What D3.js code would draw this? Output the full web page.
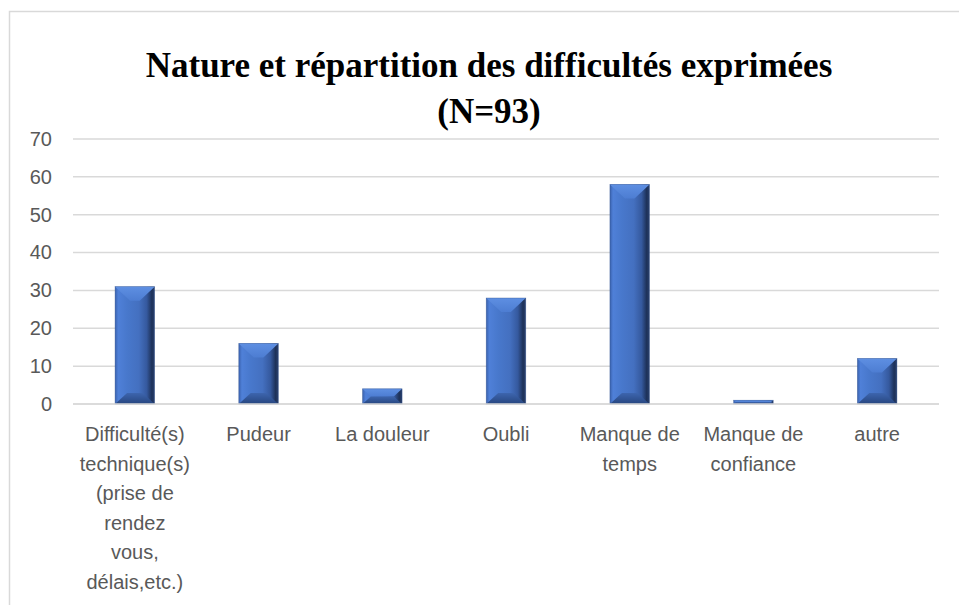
<!DOCTYPE html>
<html lang="fr">
<head>
<meta charset="UTF-8">
<script src="https://cdnjs.cloudflare.com/ajax/libs/d3/7.8.5/d3.min.js"></script>
<title>Nature et répartition des difficultés exprimées</title>
<style>
  body { margin: 0; background: #fff; }
  svg { display: block; }
</style>
</head>
<body>
<div id="chart"></div>
<script>
// data
const categories = [
  "Difficulté(s) technique(s) (prise de rendez vous, délais,etc.)",
  "Pudeur", "La douleur", "Oubli", "Manque de temps", "Manque de confiance", "autre"
];
// how each category label wraps under the axis
const labelLines = [
  ["Difficulté(s)", "technique(s)", "(prise de", "rendez", "vous,", "délais,etc.)"],
  ["Pudeur"], ["La douleur"], ["Oubli"], ["Manque de", "temps"], ["Manque de", "confiance"], ["autre"]
];
const values = [31, 16, 4, 28, 58, 1, 12];
const yTicks = [0, 10, 20, 30, 40, 50, 60, 70];
const titleLines = ["Nature et répartition des difficultés exprimées", "(N=93)"];

const W = 959, H = 605;
const plotLeft = 73, plotRight = 939, plotTop = 139, plotBottom = 404;
const labelFont = "'Liberation Sans', Arial, sans-serif";

const svg = d3.select("#chart").append("svg")
  .attr("width", W).attr("height", H);

// frame of the chart area (cropped on the right and bottom)
svg.append("path")
  .attr("d", `M${9.5},${H} V${11.5} H${W}`)
  .attr("fill", "none").attr("stroke", "#d9d9d9").attr("stroke-width", 1.5);

// gradients for the bevelled bars
const defs = svg.append("defs");
const side = defs.append("linearGradient").attr("id", "side")
  .attr("x1", 0).attr("x2", 1).attr("y1", 0).attr("y2", 0);
[[0, "#3a62ae"], [0.08, "#4f80d8"], [0.3, "#4878cc"], [0.6, "#4470c0"], [0.8, "#35599e"], [0.93, "#1d3158"], [1, "#2b4270"]]
  .forEach(([o, c]) => side.append("stop").attr("offset", o).attr("stop-color", c));
const topG = defs.append("linearGradient").attr("id", "topbevel")
  .attr("x1", 0).attr("x2", 0).attr("y1", 0).attr("y2", 1);
[[0, "#5e8fe2"], [1, "#4d7dd2"]].forEach(([o, c]) => topG.append("stop").attr("offset", o).attr("stop-color", c));
const botG = defs.append("linearGradient").attr("id", "botbevel")
  .attr("x1", 0).attr("x2", 0).attr("y1", 0).attr("y2", 1);
[[0, "#3d65ae"], [1, "#27467f"]].forEach(([o, c]) => botG.append("stop").attr("offset", o).attr("stop-color", c));

const x = d3.scaleBand().domain(categories).range([plotLeft, plotRight])
  .paddingInner(0.68).paddingOuter(0.34);
const y = d3.scaleLinear().domain([0, 70]).range([plotBottom, plotTop]);

// gridlines
svg.append("g").selectAll("line").data(yTicks).join("line")
  .attr("x1", plotLeft).attr("x2", plotRight)
  .attr("y1", d => y(d)).attr("y2", d => y(d))
  .attr("stroke", "#d9d9d9").attr("stroke-width", 1.5);

// y axis labels
const yAxis = svg.append("g")
  .attr("transform", `translate(${plotLeft - 21},0)`)
  .call(d3.axisLeft(y).tickValues(yTicks).tickSize(0).tickPadding(0));
yAxis.select(".domain").remove();
yAxis.selectAll("text")
  .attr("font-family", labelFont)
  .attr("font-size", 20).attr("fill", "#595959");

// bars
const bars = svg.append("g").selectAll("g").data(values).join("g")
  .attr("transform", (d, i) => `translate(${x(categories[i])},${y(d)})`);
const bw = x.bandwidth();
bars.append("rect")
  .attr("width", bw).attr("height", d => plotBottom - y(d))
  .attr("fill", "url(#side)");
bars.append("path")
  .attr("fill", "url(#topbevel)")
  .attr("d", d => {
    const h = plotBottom - y(d), bh = Math.min(14, h / 2), bx = Math.min(15, bh * 1.1);
    return `M0,0 H${bw} L${bw - bx},${bh} H${bx} Z`;
  });
bars.append("path")
  .attr("fill", "url(#botbevel)")
  .attr("d", d => {
    const h = plotBottom - y(d), bh = Math.min(11, h / 2), bx = Math.min(12, bh * 1.1);
    return `M${bx},${h - bh} H${bw - bx} L${bw},${h} H0 Z`;
  });
bars.append("rect")
  .attr("width", bw).attr("height", d => plotBottom - y(d))
  .attr("fill", "none").attr("stroke", "#2f4f8a").attr("stroke-width", 0.6).attr("stroke-opacity", 0.6);

// x axis line
svg.append("line")
  .attr("x1", plotLeft).attr("x2", plotRight).attr("y1", plotBottom).attr("y2", plotBottom)
  .attr("stroke", "#d9d9d9").attr("stroke-width", 1.5);

// x axis labels
const xl = svg.append("g").selectAll("text").data(categories).join("text")
  .attr("x", d => x(d) + bw / 2)
  .attr("y", 441)
  .attr("text-anchor", "middle")
  .attr("font-family", labelFont)
  .attr("font-size", 20).attr("fill", "#595959");
xl.selectAll("tspan").data((d, i) => labelLines[i]).join("tspan")
  .attr("x", function () { return d3.select(this.parentNode).attr("x"); })
  .attr("dy", (d, i) => i === 0 ? 0 : 29.6)
  .text(d => d);

// title
svg.append("text")
  .attr("x", 489).attr("y", 77)
  .attr("text-anchor", "middle")
  .attr("font-family", "'Liberation Serif', 'DejaVu Serif', serif")
  .attr("font-weight", "bold").attr("font-size", 35).attr("fill", "#000")
  .selectAll("tspan").data(titleLines).join("tspan")
  .attr("x", 489).attr("dy", (d, i) => i === 0 ? 0 : 46)
  .text(d => d);
</script>
</body>
</html>
